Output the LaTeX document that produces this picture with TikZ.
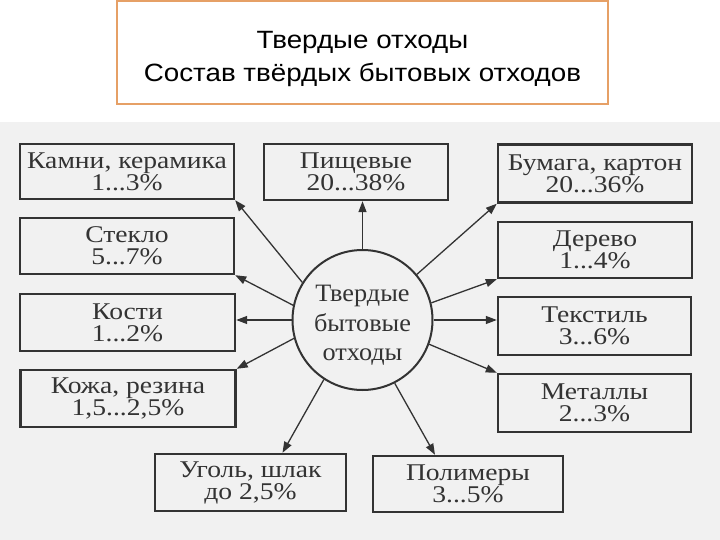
\documentclass[tikz,border=0pt]{standalone}
\usepackage{fontspec}
\setmainfont{Liberation Serif}[FakeStretch=1.15]
\newfontfamily\hubfont{Liberation Serif}[FakeStretch=1.05]
\newfontfamily\titlefont{Liberation Sans}[FakeStretch=1.11]
\usetikzlibrary{arrows.meta,calc}
\definecolor{ttlorange}{HTML}{E6A066}
\definecolor{ink}{HTML}{333333}
\definecolor{scanbg}{HTML}{F1F1F1}
\begin{document}
\begin{tikzpicture}[x=1pt,y=-1pt,
  wbox/.style={draw=ink, line width=2.4pt, inner sep=0pt, align=center,
    text=ink, font=\fontsize{24}{22}\selectfont},
  arr/.style={draw=ink, line width=1.3pt, -{Triangle[length=11pt,width=8pt]}},
  hub/.style={draw=ink, line width=2pt, circle, minimum size=140pt, inner sep=0pt,
    align=center, text=ink, font=\hubfont\fontsize{25}{29.5}\selectfont},
  ttl/.style={draw=ttlorange, line width=2pt, inner sep=0pt, align=center,
    font=\titlefont\fontsize{25}{33}\selectfont}]
\useasboundingbox (0,0) rectangle (720,540);
\fill[white] (0,0) rectangle (720,540);
\fill[scanbg] (0,122) rectangle (720,540);

\node[ttl, minimum width=491pt, minimum height=103pt] (title) at (362.5,52.5)
  {\rule{0pt}{30pt}Твердые отходы\\Состав твёрдых бытовых отходов};

\node[hub] (hub) at (362.5,320) {\rule{0pt}{27pt}Твердые\\бытовые\\отходы};

\node[wbox, minimum width=214pt, minimum height=55pt] (kamni) at (127,171.5) {Камни, керамика\\1...3\%};
\node[wbox, minimum width=214pt, minimum height=56pt] (steklo) at (127,246) {Стекло\\5...7\%};
\node[wbox, minimum width=215pt, minimum height=57pt] (kosti) at (127.5,322.5) {Кости\\1...2\%};
\node[wbox, minimum width=215pt, minimum height=57pt] (kozha) at (128,398.5) {Кожа, резина\\1,5...2,5\%};
\node[wbox, minimum width=184pt, minimum height=56pt] (pishch) at (356,172) {Пищевые\\20...38\%};
\node[wbox, minimum width=194pt, minimum height=58pt] (bumaga) at (595,173.5) {Бумага, картон\\20...36\%};
\node[wbox, minimum width=194pt, minimum height=56pt] (derevo) at (595,250) {Дерево\\1...4\%};
\node[wbox, minimum width=193pt, minimum height=58pt] (tekstil) at (594.5,326) {Текстиль\\3...6\%};
\node[wbox, minimum width=193pt, minimum height=58pt] (metally) at (594.5,403) {Металлы\\2...3\%};
\node[wbox, minimum width=191pt, minimum height=57pt] (ugol) at (250.5,482.5) {Уголь, шлак\\до 2,5\%};
\node[wbox, minimum width=190pt, minimum height=56pt] (polim) at (468,484) {Полимеры\\3...5\%};

\draw[arr] (hub.148) -- (kamni.south east);
\draw[arr] (hub.168) -- (steklo.south east);
\draw[arr] (hub.west) -- (kosti.east |- hub.west);
\draw[arr] (hub.195) -- (kozha.north east);
\draw[arr] (hub.237) -- ($(ugol.north)+(32,0)$);
\draw[arr] (hub.297) -- ($(polim.north)+(-33,0)$);
\draw[arr] (hub.340) -- (metally.north west);
\draw[arr] (hub.east) -- (tekstil.west |- hub.east);
\draw[arr] (hub.14) -- (derevo.south west);
\draw[arr] (hub.40) -- (bumaga.south west);
\draw[arr] (hub.north) -- (hub.north |- pishch.south);
\end{tikzpicture}
\end{document}
